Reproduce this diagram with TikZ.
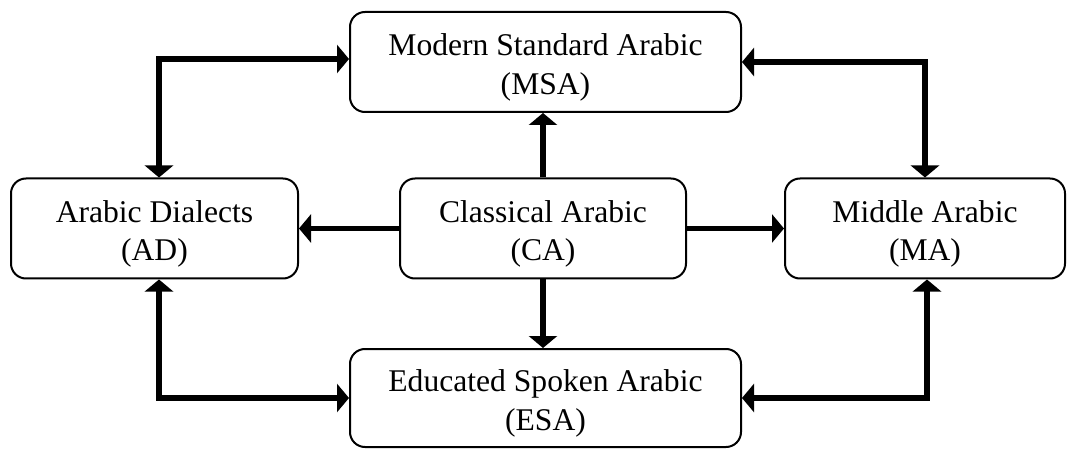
\documentclass[tikz,border=0pt]{standalone}
\usepackage{fontspec}
\setmainfont{Liberation Serif}
\usetikzlibrary{arrows.meta,calc}
\newcommand{\twolines}[2]{\raisebox{-16.25pt}[0pt][0pt]{\fontsize{15.8}{19.5}\selectfont\begin{tabular}[b]{@{}c@{}}#1\\#2\end{tabular}}}
\begin{document}
\begin{tikzpicture}[x=0.5pt,y=-0.5pt,
  box/.style={draw=black,line width=1pt,rounded corners=7.5pt,inner sep=0pt,
    minimum height=50pt},
  conn/.style={line width=2.7pt,-{Triangle[length=6pt,width=14pt]}},
  bconn/.style={line width=2.7pt,{Triangle[length=6pt,width=14pt]}-{Triangle[length=6pt,width=14pt]}}]
\useasboundingbox (0,0) rectangle (1067,449);
\node[box,minimum width=195.5pt] (MSA) at (545.5,62) {\twolines{Modern Standard Arabic}{(MSA)}};
\node[box,minimum width=143.5pt] (AD) at (154.5,228.5) {\twolines{Arabic Dialects}{(AD)}};
\node[box,minimum width=143pt] (CA) at (543,228.5) {\twolines{Classical Arabic}{(CA)}};
\node[box,minimum width=140pt] (MA) at (925,228.5) {\twolines{Middle Arabic}{(MA)}};
\node[box,minimum width=195.5pt,minimum height=49pt] (ESA) at (545.5,398) {\twolines{Educated Spoken Arabic}{(ESA)}};
\draw[conn] (CA.north) -- (CA.north |- MSA.south);
\draw[conn] (CA.south) -- (CA.south |- ESA.north);
\draw[conn] (CA.west) -- (AD.east);
\draw[conn] (CA.east) -- (MA.east -| MA.west);
\draw[bconn] ([xshift=2.25pt]AD.north) |- ([yshift=1.5pt]MSA.west);
\draw[bconn] (MA.north) |- (MSA.east);
\draw[bconn] ([xshift=2.25pt]AD.south) |- (ESA.west);
\draw[bconn] ([xshift=1pt]MA.south) |- (ESA.east);
\end{tikzpicture}
\end{document}
